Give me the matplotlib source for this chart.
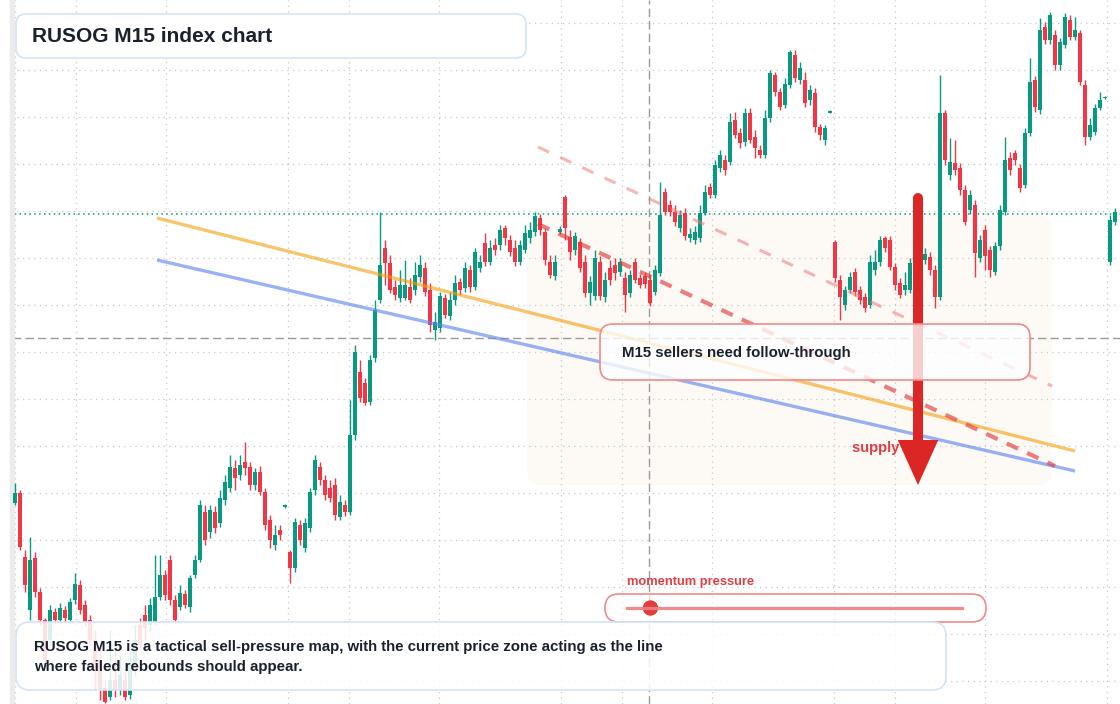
import matplotlib
matplotlib.use('Agg')
import matplotlib.pyplot as plt
from matplotlib.patches import FancyBboxPatch, Polygon, Circle

plt.rcParams['font.family'] = ['Liberation Sans', 'DejaVu Sans']

# RUSOG M15 candles (index level), one per bar
opens = [
    201, 211, 147, 94, 146, 112, 84, 64, 92, 84,
    94, 84, 104, 119, 99, 84, 64, 44, 16, 7,
    24, 14, 24, 9, 39, 79, 89, 79, 82, 107,
    129, 144, 104, 97, 110, 97, 129, 144, 192, 172,
    192, 181, 204, 216, 236, 229, 242, 237, 219, 232,
    212, 184, 159, 174, 197, 152, 136, 179, 156, 176,
    214, 237, 224, 216, 219, 187, 199, 192, 269, 332,
    321, 302, 346, 404, 456, 441, 417, 406, 406, 417,
    414, 427, 436, 414, 374, 376, 406, 388, 404, 422,
    416, 434, 417, 436, 461, 442, 459, 459, 476, 464,
    456, 442, 454, 466, 472, 486, 472, 442, 428, 472,
    507, 467, 454, 462, 442, 411, 408, 442, 407, 436,
    439, 432, 426, 411, 442, 426, 428, 424, 412, 431,
    512, 499, 492, 476, 491, 466, 464, 466, 491, 517,
    509, 536, 544, 542, 584, 571, 562, 591, 567, 554,
    549, 586, 629, 612, 599, 619, 649, 624, 624, 604,
    611, 577, 564, 591, 462, 424, 399, 414, 432, 414,
    407, 399, 434, 442, 466, 464, 437, 421, 414, 414,
    456, 442, 444, 447, 434, 407, 591, 529, 541, 536,
    514, 494, 499, 446, 474, 454, 432, 458, 492, 546,
    551, 536, 519, 571, 624, 594, 677, 664, 669, 639,
    659, 684, 667, 671, 619, 567, 572, 596, 606, 442,
    482,
]
highs = [
    221, 214, 154, 167, 152, 116, 86, 99, 96, 101,
    98, 106, 131, 124, 104, 89, 74, 57, 24, 74,
    64, 49, 34, 54, 79, 86, 99, 106, 149, 149,
    134, 149, 109, 119, 114, 129, 149, 204, 199, 199,
    198, 214, 229, 249, 244, 249, 262, 242, 236, 238,
    216, 189, 179, 179, 200, 154, 186, 184, 186, 216,
    249, 242, 229, 224, 226, 209, 204, 304, 359, 344,
    326, 349, 404, 492, 464, 449, 424, 434, 444, 426,
    442, 449, 442, 421, 392, 412, 410, 412, 429, 426,
    442, 439, 456, 449, 471, 464, 466, 479, 479, 469,
    464, 464, 479, 482, 492, 490, 476, 449, 449, 478,
    509, 474, 472, 466, 449, 428, 454, 448, 432, 444,
    446, 446, 432, 434, 446, 430, 432, 429, 439, 522,
    516, 504, 499, 494, 496, 476, 478, 499, 519, 521,
    544, 554, 549, 591, 592, 576, 596, 596, 574, 559,
    594, 634, 632, 616, 626, 654, 654, 642, 632, 619,
    616, 580, 579, 594, 464, 429, 418, 432, 436, 418,
    411, 449, 454, 468, 468, 468, 441, 426, 432, 446,
    461, 458, 456, 452, 439, 629, 594, 566, 564, 541,
    519, 514, 504, 469, 479, 458, 462, 499, 567, 552,
    554, 540, 576, 646, 628, 686, 682, 692, 674, 666,
    691, 689, 687, 674, 624, 586, 600, 612, 608, 489,
    496,
]
lows = [
    199, 154, 112, 84, 107, 79, 37, 59, 80, 81,
    82, 80, 100, 90, 78, 59, 14, 4, 1, 4,
    7, 9, 4, 5, 29, 54, 64, 74, 79, 104,
    104, 99, 80, 94, 96, 92, 126, 142, 159, 166,
    171, 177, 199, 212, 214, 224, 229, 214, 214, 209,
    174, 156, 154, 164, 196, 121, 132, 159, 152, 172,
    209, 219, 204, 202, 184, 184, 188, 189, 264, 302,
    299, 299, 342, 401, 419, 411, 404, 402, 404, 401,
    409, 422, 408, 372, 364, 372, 386, 384, 399, 409,
    412, 412, 414, 432, 438, 439, 449, 454, 459, 448,
    438, 439, 451, 461, 468, 469, 439, 426, 424, 470,
    464, 444, 449, 432, 407, 399, 404, 404, 402, 419,
    424, 428, 392, 407, 421, 416, 416, 398, 409, 428,
    489, 488, 478, 472, 464, 462, 460, 462, 489, 506,
    506, 532, 529, 539, 566, 556, 558, 561, 546, 546,
    546, 582, 608, 594, 596, 616, 622, 620, 597, 599,
    572, 564, 559, 591, 422, 384, 394, 411, 408, 400,
    392, 396, 429, 438, 452, 434, 414, 406, 409, 411,
    442, 439, 440, 429, 396, 404, 539, 524, 529, 509,
    479, 490, 427, 442, 434, 427, 429, 454, 489, 529,
    539, 512, 516, 568, 592, 590, 660, 660, 634, 634,
    656, 664, 664, 619, 559, 564, 569, 594, 605, 439,
    479,
]
closes = [
    211, 157, 119, 144, 112, 84, 44, 94, 84, 96,
    86, 102, 120, 94, 82, 64, 39, 14, 2, 24,
    14, 29, 7, 39, 64, 59, 76, 99, 107, 129,
    109, 104, 84, 111, 99, 126, 144, 199, 164, 194,
    176, 206, 222, 237, 226, 239, 236, 219, 232, 212,
    179, 164, 169, 169, 199, 136, 182, 164, 181, 212,
    244, 224, 209, 206, 189, 202, 192, 269, 352, 306,
    301, 344, 394, 439, 441, 414, 409, 419, 419, 404,
    429, 439, 412, 379, 382, 408, 389, 404, 421, 414,
    436, 417, 452, 442, 442, 456, 454, 474, 466, 452,
    442, 459, 471, 474, 488, 474, 444, 429, 442, 475,
    476, 452, 468, 436, 411, 422, 446, 408, 424, 424,
    431, 442, 409, 429, 424, 419, 420, 401, 434, 489,
    492, 492, 482, 489, 468, 470, 472, 491, 512, 509,
    539, 549, 534, 582, 569, 561, 591, 564, 556, 549,
    586, 631, 612, 597, 620, 652, 626, 636, 601, 614,
    577, 569, 576, 593, 426, 407, 414, 427, 412, 404,
    396, 442, 442, 464, 456, 437, 419, 409, 419, 441,
    446, 452, 450, 434, 407, 591, 544, 542, 534, 514,
    482, 509, 451, 464, 448, 434, 458, 494, 544, 534,
    544, 516, 571, 622, 597, 674, 664, 689, 639, 662,
    687, 667, 674, 622, 567, 579, 596, 604, 607, 484,
    492,
]

# session separators (bar index) and price grid levels
session_ticks = [0, 12.2, 30.2, 54.6, 66.8, 84.8, 109.2, 121.4, 139.4, 163.8, 176, 194, 218.4]
price_grid = [681.5, 634.5, 587.5, 540.5, 493.5, 446.5, 399.5, 352.5, 305.5,
              258.5, 211.5, 164.5, 117.5, 70.5, 23.5]
last_price = 490
cursor_bar, cursor_price = 126.8, 366

# drawn levels: (bar, price) start and end
upper_channel = [(28.4, 486), (212, 253)]
lower_channel = [(28.4, 444), (212, 233)]
sell_trend = [(104.6, 480), (208, 238)]
faint_trend = [(104.6, 557), (207.4, 318)]
supply_zone = (102.4, 207.4, 219, 489)   # bar from, bar to, price low, price high
arrow_bar, arrow_from, arrow_head, arrow_to = 180.6, 506, 264, 219
momentum_value = 0.07

UP = '#089981'
DOWN = '#f23645'
RED = '#dc2626'
LABEL_RED = '#e03e43'
INK = '#1a202c'

fig = plt.figure(figsize=(11.2, 7.04), dpi=100)
ax = fig.add_axes([0, 0, 1, 1])
ax.set_xlim(-3, 221)
ax.set_ylim(0, 704)
for s in ax.spines.values():
    s.set_visible(False)
ax.set_xticks(session_ticks)
ax.set_yticks(price_grid)
ax.tick_params(length=0, labelbottom=False, labelleft=False)
ax.grid(True, color='#c8c8c8', linestyle=(0, (1, 3.5)), linewidth=0.9)
ax.set_axisbelow(True)

# supply zone
z0, z1, zlo, zhi = supply_zone
ax.add_patch(FancyBboxPatch((z0, zlo), z1 - z0, zhi - zlo,
                            boxstyle='round,pad=0,rounding_size=2.8', mutation_aspect=5,
                            fc='#fcf1e6', ec='none', alpha=0.35, zorder=0.5))

ax.axhline(last_price, color=UP, linestyle=(0, (1, 2.2)), linewidth=1.1, zorder=1)
ax.axvline(cursor_bar, color='#9a9a9a', linestyle=(0, (6, 3)), linewidth=1, zorder=1)
ax.axhline(cursor_price, color='#9a9a9a', linestyle=(0, (6, 3)), linewidth=1, zorder=1)

# left price-scale edge
ax.axvspan(-3, -1, color='white', zorder=1.5)
ax.axvspan(-1, -0.2, color='#ebebeb', zorder=1.5)

# candles
idx = list(range(len(closes)))
cols = [UP if c >= o else DOWN for o, c in zip(opens, closes)]
ax.vlines(idx, lows, highs, colors=cols, linewidth=1, zorder=2)
bottoms = [min(o, c) for o, c in zip(opens, closes)]
heights = [max(abs(c - o), 1.5) for o, c in zip(opens, closes)]
ax.bar(idx, heights, bottom=bottoms, width=0.66, color=cols, linewidth=0, zorder=3)

# drawn lines
(a, b), (c, d) = upper_channel
ax.plot([a, c], [b, d], color='#f59e0b', alpha=0.6, linewidth=2.4, solid_capstyle='butt', zorder=4)
(a, b), (c, d) = lower_channel
ax.plot([a, c], [b, d], color='#5b82f0', alpha=0.62, linewidth=2.4, solid_capstyle='butt', zorder=4)
(a, b), (c, d) = faint_trend
ax.plot([a, c], [b, d], color='#ee7a7a', alpha=0.55, linewidth=2.2, linestyle=(0, (4, 4)), zorder=4)
(a, b), (c, d) = sell_trend
ax.plot([a, c], [b, d], color='#e23b3b', alpha=0.65, linewidth=3, linestyle=(0, (3, 2.4)), zorder=4)

ax.text(167.4, 256, 'supply gate', color=LABEL_RED, fontsize=10.6, fontweight='bold',
        va='center', ha='left', zorder=5)

# down arrow
ax.plot([arrow_bar, arrow_bar], [arrow_from, arrow_head], color=RED, linewidth=7.2,
        solid_capstyle='round', zorder=6)
ax.add_patch(Polygon([(arrow_bar - 4.05, arrow_head), (arrow_bar + 4.05, arrow_head),
                      (arrow_bar, arrow_to)], closed=True, fc=RED, ec='none', zorder=6))

# overlay in pixel units for the panels
ov = fig.add_axes([0, 0, 1, 1])
ov.set_xlim(0, 1120)
ov.set_ylim(704, 0)
ov.axis('off')
ov.patch.set_alpha(0)


def panel(x, y, w, h, ec, alpha, r=12):
    ov.add_patch(FancyBboxPatch((x, y), w, h, boxstyle=f'round,pad=0,rounding_size={r}',
                                fc=(1, 1, 1, alpha), ec=ec, linewidth=1.2))


panel(16, 14, 510, 44, '#d5e3fa', 0.95, r=10)
ov.text(32, 36, 'RUSOG M15 index chart', fontsize=15, fontweight='bold', color=INK, va='center')

panel(600, 324, 430, 56, '#f08a8a', 0.78, r=13)
ov.text(622, 353, 'M15 sellers need follow-through', fontsize=10.8, fontweight='bold',
        color=INK, va='center')

ov.text(627, 582, 'momentum pressure', fontsize=9.3, fontweight='bold', color=LABEL_RED, va='center')
panel(605, 594, 381, 28, '#f08a8a', 0.6, r=14)
ov.plot([627, 962], [608, 608], color='#ef7f7f', linewidth=2.3, alpha=0.9)
ov.add_patch(Circle((627 + momentum_value * (962 - 627), 608), 7, color='#e23d3d'))

panel(16, 622, 930, 68, '#d5e3fa', 0.86, r=14)
summary_lines = ['RUSOG M15 is a tactical sell-pressure map, with the current price zone acting as the line',
                 'where failed rebounds should appear.']
for k, line in enumerate(summary_lines):
    ov.text(34, 647 + 20 * k, line, fontsize=10.8, fontweight='bold', color=INK, va='center')

fig.savefig('out.png', dpi=100)
